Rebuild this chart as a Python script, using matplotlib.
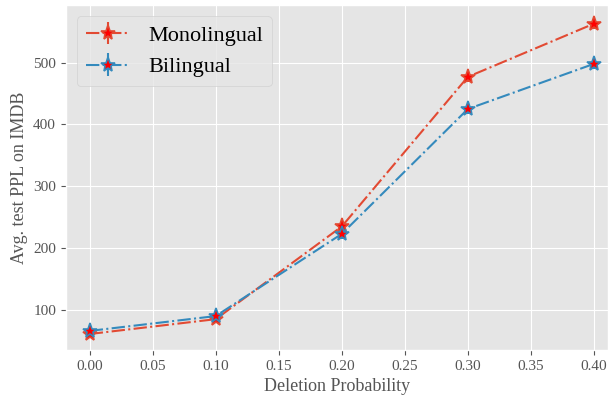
import numpy as np
import matplotlib
matplotlib.use('Agg')
import matplotlib.pyplot as plt

plt.style.use('ggplot')
plt.rcParams['font.family'] = ['Liberation Serif', 'DejaVu Serif']

deletion_prob = [0.0, 0.1, 0.2, 0.3, 0.4]
mono_ppl = [61, 85, 235, 477, 563]
bi_ppl = [66, 90, 223, 425, 498]
mono_err = [6, 6, 8, 8, 8]
bi_err = [6, 6, 8, 8, 8]

fig, ax = plt.subplots(figsize=(6.09, 3.96), dpi=100)

ax.errorbar(deletion_prob, mono_ppl, yerr=mono_err, color='#E24A33', linestyle='-.',
            marker='*', markersize=11, markerfacecolor='red', markeredgecolor='#E24A33',
            markeredgewidth=1.2, linewidth=1.5, label='Monolingual')
ax.errorbar(deletion_prob, bi_ppl, yerr=bi_err, color='#348ABD', linestyle='-.',
            marker='*', markersize=11, markerfacecolor='red', markeredgecolor='#348ABD',
            markeredgewidth=1.2, linewidth=1.5, label='Bilingual')

ax.set_xlim(-0.019, 0.411)
ax.set_ylim(35, 593)
ax.set_xticks([0.0, 0.05, 0.1, 0.15, 0.2, 0.25, 0.3, 0.35, 0.4])
ax.set_xticklabels(['0.00', '0.05', '0.10', '0.15', '0.20', '0.25', '0.30', '0.35', '0.40'])
ax.set_yticks([100, 200, 300, 400, 500])
ax.tick_params(labelsize=11, colors='#555555')
ax.set_xlabel('Deletion Probability', fontsize=13, color='#555555')
ax.set_ylabel('Avg. test PPL on IMDB', fontsize=13, color='#555555')
ax.legend(loc='upper left', fontsize=16)

fig.subplots_adjust(left=0.108, right=0.998, top=0.987, bottom=0.116)
fig.savefig('out.png')
